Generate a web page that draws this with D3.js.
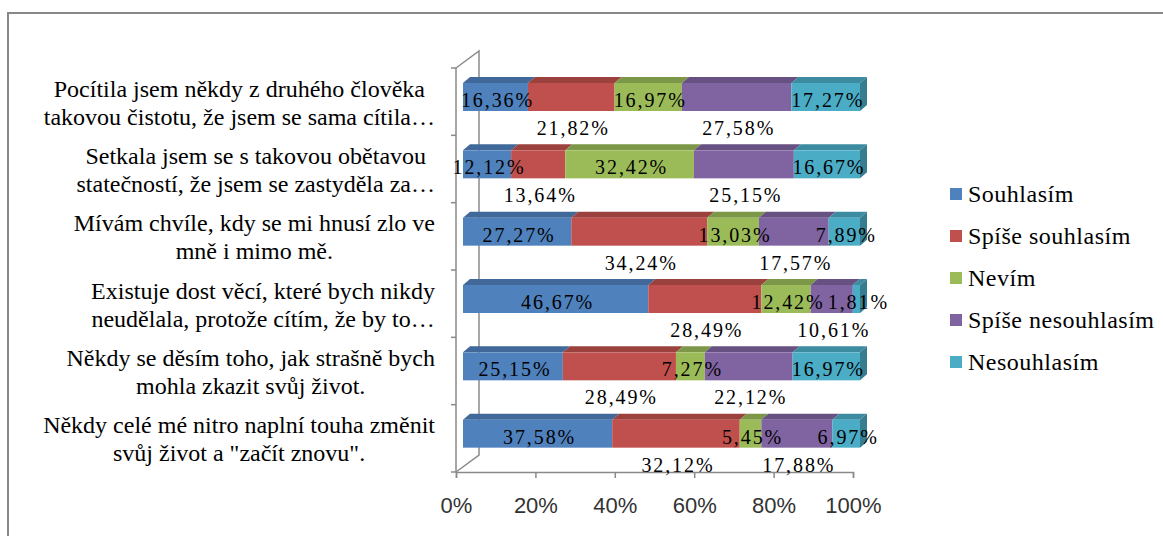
<!DOCTYPE html>
<html>
<head>
<meta charset="utf-8">
<script src="https://cdn.jsdelivr.net/npm/d3@7"></script>
<style>
  body { margin: 0; background: #fff; }
</style>
</head>
<body>
<div id="chart"></div>
<script>
// categories (two lines each), top to bottom
var categories = [
  ["Pocítila jsem někdy z druhého člověka", "takovou čistotu, že jsem se sama cítila…"],
  ["Setkala jsem se s takovou obětavou", "statečností, že jsem se zastyděla za…"],
  ["Mívám chvíle, kdy se mi hnusí zlo ve", "mně i mimo mě."],
  ["Existuje dost věcí, které bych nikdy", "neudělala, protože cítím, že by to…"],
  ["Někdy se děsím toho, jak strašně bych", "mohla zkazit svůj život."],
  ["Někdy celé mé nitro naplní touha změnit", "svůj život a \"začít znovu\"."]
];

var seriesNames = ["Souhlasím", "Spíše souhlasím", "Nevím", "Spíše nesouhlasím", "Nesouhlasím"];
var seriesColors = ["#4F81BD", "#C0504D", "#9BBB59", "#8064A2", "#4BACC6"];

// values in %, one array per series (same order as categories)
var souhlasim        = [16.36, 12.12, 27.27, 46.67, 25.15, 37.58];
var spiseSouhlasim   = [21.82, 13.64, 34.24, 28.49, 28.49, 32.12];
var nevim            = [16.97, 32.42, 13.03, 12.42, 7.27, 5.45];
var spiseNesouhlasim = [27.58, 25.15, 17.57, 10.61, 22.12, 17.88];
var nesouhlasim      = [17.27, 16.67, 7.89, 1.81, 16.97, 6.97];

var xTicks = [0, 20, 40, 60, 80, 100];

var width = 1163, height = 536;
var serif = "Liberation Serif";
// 3d depth of the walls and of the bars
var wallDx = 23, wallDy = -17;
var barDx = 7, topDx = 7, topDy = -6;

var seriesValues = [souhlasim, spiseSouhlasim, nevim, spiseNesouhlasim, nesouhlasim];
var rows = categories.map(function (c, i) {
  var r = {id: i};
  seriesNames.forEach(function (s, j) { r[s] = seriesValues[j][i]; });
  return r;
});

var svg = d3.select("#chart")
            .append("svg")
            .attr("width", width)
            .attr("height", height);

// frame
svg.append("rect")
   .attr("x", 8).attr("y", 13)
   .attr("width", width + 20).attr("height", height + 20)
   .attr("fill", "none")
   .attr("stroke", "#878787")
   .attr("stroke-width", 2);

var xScale = d3.scaleLinear().domain([0, 100]).range([456, 853]);
var yScale = d3.scaleBand()
               .domain(rows.map(function (d) { return d.id; }))
               .range([68, 472])
               .padding(0);

var g = svg.append("g");
var axisColor = "#8a8a8a";

// back wall + floor lines
var x0 = xScale(0), yTop = yScale.range()[0], yBot = yScale.range()[1];
g.append("path")
 .attr("d", "M" + x0 + "," + yTop + "L" + (x0 + wallDx) + "," + (yTop + wallDy) +
            "L" + (x0 + wallDx) + "," + (yBot + wallDy) + "L" + x0 + "," + yBot)
 .attr("fill", "none").attr("stroke", axisColor).attr("stroke-width", 1.5);

// front vertical axis with ticks
g.append("line")
 .attr("x1", x0).attr("x2", x0).attr("y1", yTop).attr("y2", yBot)
 .attr("stroke", axisColor).attr("stroke-width", 1.5);
g.selectAll(".ytick")
 .data(rows.map(function (d) { return yScale(d.id); }).concat([yBot]))
 .enter().append("line")
 .attr("x1", x0 - 5).attr("x2", x0)
 .attr("y1", function (d) { return d; }).attr("y2", function (d) { return d; })
 .attr("stroke", axisColor).attr("stroke-width", 1.5);

// x axis
var xAxis = g.append("g")
  .attr("transform", "translate(0," + yBot + ")")
  .call(d3.axisBottom(xScale).tickValues(xTicks).tickSize(6).tickPadding(19)
        .tickFormat(function (d) { return d + "%"; }));
xAxis.attr("font-family", null).attr("font-size", null);
xAxis.select(".domain").attr("stroke", axisColor).attr("stroke-width", 1.5);
xAxis.selectAll("line").attr("stroke", axisColor).attr("stroke-width", 1.5);
xAxis.selectAll("text")
     .style("font-family", "Liberation Sans")
     .style("font-size", "22px").style("fill", "#333");

// bars
var stacked = d3.stack().keys(seriesNames)(rows);
var barOffset = 15, barH = 28;

stacked.forEach(function (layer, si) {
  var col = seriesColors[si];
  var lg = g.append("g");
  layer.forEach(function (seg) {
    var id = seg.data.id;
    var xa = xScale(seg[0]) + barDx, xb = xScale(seg[1]) + barDx;
    var yf = yScale(id) + barOffset;
    // top face
    lg.append("path")
      .attr("d", "M" + xa + "," + yf + "L" + xb + "," + yf +
                 "L" + (xb + topDx) + "," + (yf + topDy) + "L" + (xa + topDx) + "," + (yf + topDy) + "Z")
      .attr("fill", d3.color(col).darker(0.6));
    // front face
    lg.append("rect")
      .attr("x", xa).attr("y", yf)
      .attr("width", xb - xa).attr("height", barH)
      .attr("fill", col);
    // right side of the last segment
    if (si == seriesNames.length - 1) {
      lg.append("path")
        .attr("d", "M" + xb + "," + yf + "L" + (xb + topDx) + "," + (yf + topDy) +
                   "L" + (xb + topDx) + "," + (yf + topDy + barH) + "L" + xb + "," + (yf + barH) + "Z")
        .attr("fill", d3.color(col).darker(0.9));
    }
  });
});

// data labels: odd series inside the bar, even series under it
var fmt = function (v) { return v.toFixed(2).replace(".", ",") + "%"; };
stacked.forEach(function (layer, si) {
  g.selectAll(".lbl" + si)
   .data(layer)
   .enter().append("text")
   .attr("text-anchor", "middle")
   .attr("x", function (d) { return xScale((d[0] + d[1]) / 2) + barDx + 2; })
   .attr("y", function (d) {
     var yb = yScale(d.data.id) + barOffset + barH;
     return si % 2 == 0 ? yb - 4 : yb + 24;
   })
   .style("font-family", serif)
   .style("font-size", "20px")
   .style("letter-spacing", "1.9px")
   .style("fill", "#000")
   .text(function (d) { return fmt(d[1] - d[0]); });
});

// category labels: block right aligned, lines centred in it
var labelRight = 435, lineH = 28;
rows.forEach(function (d, i) {
  var cy = yScale(d.id) + yScale.bandwidth() / 2;
  var t = g.append("g");
  var lines = t.selectAll("text")
    .data(categories[i])
    .enter().append("text")
    .attr("text-anchor", "middle")
    .attr("y", function (l, k) { return cy + 9 + (k - (categories[i].length - 1) / 2) * lineH; })
    .style("font-family", serif)
    .style("font-size", "24px")
    .style("fill", "#000")
    .text(function (l) { return l; });
  var w = d3.max(lines.nodes(), function (n) { return n.getComputedTextLength(); });
  lines.attr("x", labelRight - w / 2);
});

// legend
var legend = svg.append("g")
  .selectAll("g")
  .data(seriesNames)
  .enter().append("g")
  .attr("transform", function (d, i) { return "translate(950," + (194 + i * 42) + ")"; });
legend.append("rect")
  .attr("x", 0).attr("y", -6).attr("width", 12).attr("height", 12)
  .attr("fill", function (d, i) { return seriesColors[i]; });
legend.append("text")
  .attr("x", 18).attr("y", 8)
  .style("font-family", serif)
  .style("font-size", "24px")
  .style("letter-spacing", "0.5px")
  .style("fill", "#000")
  .text(function (d) { return d; });
</script>
</body>
</html>
